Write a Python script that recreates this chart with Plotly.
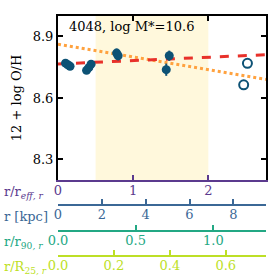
import plotly.graph_objects as go

# data (radius in r/r_eff, metallicity)
r_eff_filled = [0.10, 0.13, 0.16, 0.38, 0.41, 0.44, 0.78, 0.80, 1.44, 1.48]
oh_filled = [8.770, 8.762, 8.755, 8.735, 8.748, 8.765, 8.819, 8.806, 8.738, 8.806]
oh_err = [0.008, 0.008, 0.008, 0.010, 0.010, 0.010, 0.022, 0.022, 0.030, 0.025]
r_eff_open = [2.47, 2.52]
oh_open = [8.664, 8.769]

fit_red = (8.766, 0.0163)      # intercept, slope per r_eff
fit_orange = (8.862, -0.062)
shade_range = [0.5, 2.0]

x_max = 2.767
kpc_max = 9.49
r90_max = 1.339
r25_max = 0.744

title_text = "4048, log M*=10.6"
ytitle = "12 + log O/H"

c_eff = "#5b3a8e"
c_kpc = "#3b6896"
c_r90 = "#23a884"
c_r25 = "#bddf26"
c_pts = "#0d5275"
serif = "DejaVu Serif"

fig = go.Figure()

fig.add_vrect(x0=shade_range[0], x1=shade_range[1], fillcolor="#fff8dc", opacity=1,
              line_width=0, layer="below")

xs = [0, x_max]
fig.add_trace(go.Scatter(x=xs, y=[fit_orange[0] + fit_orange[1] * x for x in xs], mode="lines",
                         line=dict(color="#ffa23f", width=3, dash="dot"), showlegend=False))
fig.add_trace(go.Scatter(x=xs, y=[fit_red[0] + fit_red[1] * x for x in xs], mode="lines",
                         line=dict(color="#e8312a", width=3, dash="dash"), showlegend=False))
fig.add_trace(go.Scatter(x=r_eff_filled, y=oh_filled, mode="markers",
                         error_y=dict(type="data", array=oh_err, color=c_pts, thickness=2, width=0),
                         marker=dict(color=c_pts, size=9), showlegend=False))
fig.add_trace(go.Scatter(x=r_eff_open, y=oh_open, mode="markers",
                         marker=dict(color="rgba(0,0,0,0)", size=9, line=dict(color=c_pts, width=2)),
                         showlegend=False))

# dummy traces for secondary axes
for ax, mx in [("x2", kpc_max), ("x3", r90_max), ("x4", r25_max), ("x5", x_max)]:
    fig.add_trace(go.Scatter(x=[0, mx], y=[8.5, 8.5], xaxis=ax, yaxis="y", mode="markers",
                             marker=dict(opacity=0), showlegend=False, hoverinfo="skip"))

dom_bottom = (277 - 174) / 277

common = dict(ticks="inside", ticklen=5, tickwidth=1.5, showline=True, linewidth=2,
              showgrid=False, zeroline=False, automargin=False)
xcommon = dict(common, ticklabelstandoff=-3)

fig.update_layout(
    width=277, height=277,
    margin=dict(l=58, r=11, t=16, b=0),
    plot_bgcolor="white", paper_bgcolor="white",
    font=dict(family=serif, size=12, color="black"),
    xaxis=dict(range=[0, x_max], tickvals=[0, 1, 2], tickcolor=c_eff, linecolor=c_eff,
               tickfont=dict(color=c_eff, size=13, family=serif), anchor="y", **xcommon),
    xaxis5=dict(range=[0, x_max], tickvals=[1, 2], showticklabels=False, tickcolor="black",
                linecolor="black", side="top", overlaying="x", anchor="y", **common),
    yaxis=dict(range=[8.2, 9.0], domain=[dom_bottom, 1], tickvals=[8.3, 8.6, 8.9],
               ticktext=["8.3", "8.6", "8.9"], tickcolor="black", linecolor="black", mirror="ticks",
               tickfont=dict(size=13, family=serif),
               title=dict(text=ytitle, font=dict(size=13, family=serif), standoff=8), **common),
    xaxis2=dict(range=[0, kpc_max], tickvals=[0, 2, 4, 6, 8], tickcolor=c_kpc, linecolor=c_kpc,
                overlaying="x", anchor="free", position=(277 - 201) / 277, side="bottom",
                tickfont=dict(color=c_kpc, size=13, family=serif), **xcommon),
    xaxis3=dict(range=[0, r90_max], tickvals=[0, 0.5, 1.0], ticktext=["0.0", "0.5", "1.0"],
                tickcolor=c_r90, linecolor=c_r90, overlaying="x", anchor="free",
                position=(277 - 228.3) / 277, side="bottom",
                tickfont=dict(color=c_r90, size=13, family=serif), **xcommon),
    xaxis4=dict(range=[0, r25_max], tickvals=[0, 0.2, 0.4, 0.6], ticktext=["0.0", "0.2", "0.4", "0.6"],
                tickcolor=c_r25, linecolor=c_r25, overlaying="x", anchor="free",
                position=(277 - 255) / 277, side="bottom",
                tickfont=dict(color=c_r25, size=13, family=serif), **xcommon),
)

fig.add_annotation(text=title_text, xref="paper", yref="paper", x=0.045, y=1 - (27 - 16) / 277,
                   xanchor="left", yanchor="middle", showarrow=False,
                   font=dict(family=serif, size=13, color="black"))

labels = [
    ("r/r<sub><i>eff, r</i></sub>", c_eff, 187),
    ("r [kpc]", c_kpc, 213),
    ("r/r<sub>90<i>, r</i></sub>", c_r90, 240.7),
    ("r/R<sub>25<i>, r</i></sub>", c_r25, 267),
]
for txt, col, ypx in labels:
    fig.add_annotation(text=txt, xref="paper", yref="paper", x=-56 / 208, y=(277 - ypx) / 277,
                       xanchor="left", yanchor="middle", showarrow=False,
                       font=dict(family=serif, size=13, color=col))

fig.write_html("out.html", config={"displayModeBar": False},
               post_script="document.body.style.margin='0px';")
